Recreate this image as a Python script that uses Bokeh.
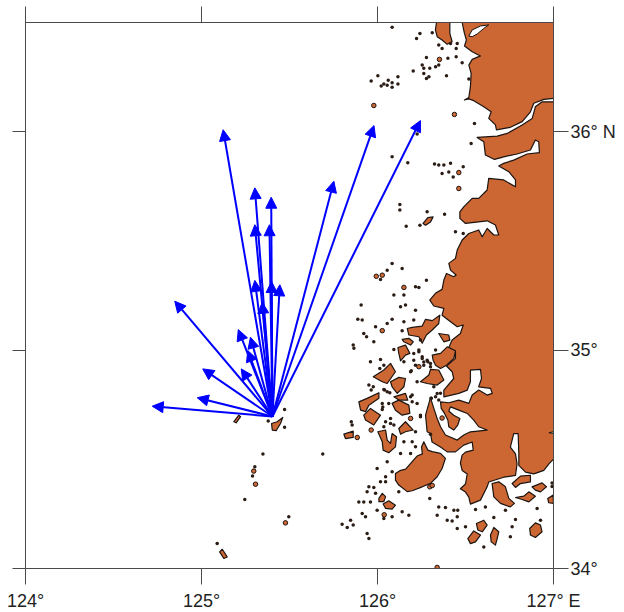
from bokeh.plotting import figure
from bokeh.models import Range1d, LinearAxis, FixedTicker, Arrow, NormalHead, ColumnDataSource
from bokeh.embed import file_html
from bokeh.resources import INLINE

LON_TICKS = [124, 125, 126, 127]
LAT_TICKS = [34, 35, 36]
LON_LABELS = {124: "124°", 125: "125°", 126: "126°", 127: "127° E"}
LAT_LABELS = {34: "34°", 35: "35°", 36: "36° N"}

ORIGIN_LON = 125.403
ORIGIN_LAT = 34.696
TIP_LON = [125.123, 125.303, 125.396, 125.303, 125.386, 125.752, 125.980, 126.244, 125.303, 125.398,
           125.445, 125.345, 124.848, 125.209, 125.278, 125.263, 125.226, 125.007, 124.976, 124.720]
TIP_LAT = [36.009, 35.743, 35.700, 35.574, 35.574, 35.773, 36.028, 36.051, 35.319, 35.314,
           35.299, 35.219, 35.224, 35.094, 35.059, 34.998, 34.914, 34.914, 34.782, 34.743]

COAST_NORTH = [(126.481,36.52),(126.481,36.5),(126.494,36.450),(126.505,36.420),(126.494,36.392),(126.538,36.366),
 (126.585,36.347),(126.538,36.331),(126.519,36.305),(126.532,36.267),(126.528,36.206),(126.519,36.157),
 (126.494,36.145),(126.519,36.150),(126.547,36.142),(126.604,36.114),(126.646,36.091),(126.632,36.061),(126.670,36.031),
 (126.676,36.008),(126.755,36.020),(126.822,36.046),(126.869,36.091),(126.888,36.130),(126.945,36.148),
 (127.0,36.153),(127.02,36.153),(127.02,36.52)]

COAST_SOUTH_A = [(127.02,36.137),(127.0,36.137),(126.935,36.137),(126.897,36.114),(126.879,36.061),(126.822,36.031),
 (126.737,35.992),(126.680,35.980),(126.566,35.974),(126.604,35.954),(126.613,35.893),(126.665,35.873),
 (126.717,35.885),(126.793,35.898),(126.869,35.916),(126.897,35.962),(126.916,35.954),(126.920,35.904),
 (126.850,35.898),(126.774,35.870),(126.717,35.855),(126.689,35.843),(126.746,35.817),(126.784,35.779),
 (126.784,35.748),(126.717,35.779),(126.632,35.786),(126.623,35.733),(126.575,35.695),(126.538,35.695),
 (126.490,35.656),(126.468,35.633),(126.468,35.603),(126.500,35.580),(126.623,35.592),(126.670,35.573),
 (126.689,35.527),(126.661,35.527),(126.623,35.557),(126.595,35.519),(126.575,35.550),(126.519,35.534),
 (126.481,35.504),(126.453,35.458),(126.443,35.420),(126.405,35.397),(126.415,35.366),(126.447,35.344),
 (126.433,35.336),(126.392,35.351),(126.377,35.321),(126.367,35.278)]

COAST_SOUTH_B = [(126.329,35.260),(126.297,35.229),(126.320,35.202),(126.377,35.191),(126.367,35.160),(126.415,35.130),
 (126.453,35.107),(126.487,35.115),(126.471,35.076),(126.424,35.046),(126.405,35.012),(126.443,34.992),
 (126.443,34.962),(126.392,34.927),(126.424,34.901),(126.433,34.870),(126.377,34.817),(126.377,34.786),
 (126.462,34.802),(126.510,34.817),(126.528,34.855),(126.528,34.908),(126.585,34.912),(126.591,34.870),
 (126.575,34.832),(126.642,34.825),(126.652,34.802),(126.623,34.794),(126.575,34.817),(126.538,34.794),
 (126.519,34.756),(126.462,34.771),(126.405,34.759)]

COAST_SOUTH_C = [(126.358,34.763),(126.362,34.733),(126.381,34.710),(126.400,34.679),(126.405,34.649),(126.433,34.634),
 (126.456,34.657),(126.468,34.687),(126.433,34.702),(126.405,34.721),(126.415,34.740),(126.462,34.725),
 (126.510,34.710),(126.547,34.679),(126.575,34.649),(126.623,34.634),(126.528,34.626),(126.490,34.611),
 (126.453,34.588),(126.386,34.611),(126.358,34.649),(126.339,34.687),(126.320,34.733),(126.301,34.782),
 (126.273,34.702),(126.282,34.626),(126.301,34.618),(126.310,34.579),(126.358,34.556),(126.396,34.534),
 (126.443,34.534),(126.490,34.565),(126.538,34.579),(126.544,34.542)]

COAST_SOUTH_D = [(126.500,34.533),(126.481,34.519),(126.471,34.482),(126.481,34.449),(126.510,34.433),(126.500,34.387),
 (126.471,34.365),(126.500,34.350),(126.519,34.327),(126.528,34.295),(126.585,34.313),(126.623,34.374),
 (126.632,34.396),(126.717,34.418),(126.784,34.426),(126.793,34.479),(126.784,34.525),(126.755,34.556),
 (126.774,34.618),(126.799,34.618),(126.803,34.525),(126.803,34.472),(126.841,34.441),(126.888,34.433),
 (126.945,34.449),(126.974,34.479),(127.0,34.501),(127.02,34.501)]

ISLANDS = [
 [(126.339,36.52),(126.411,36.52),(126.411,36.450),(126.424,36.412),(126.396,36.400),(126.367,36.420),(126.339,36.435),(126.329,36.466)],
 [(126.259,35.580),(126.286,35.607),(126.316,35.610),(126.301,35.587),(126.273,35.572)],
 [(126.169,35.099),(126.197,35.104),(126.254,35.110),(126.273,35.141),(126.311,35.135),(126.354,35.160),(126.348,35.122),(126.311,35.092),(126.278,35.069),(126.254,35.031),(126.235,35.061),(126.178,35.069)],
 [(126.140,35.049),(126.178,35.054),(126.203,35.038),(126.188,35.023),(126.150,35.038)],
 [(126.116,35.012),(126.159,35.023),(126.184,34.985),(126.159,34.977),(126.131,34.951),(126.121,34.985)],
 [(126.348,35.076),(126.405,35.069),(126.411,35.046),(126.377,35.038)],
 [(126.311,34.977),(126.358,34.985),(126.396,35.015),(126.443,34.997),(126.434,34.962),(126.392,34.931),(126.358,34.916),(126.330,34.931),(126.316,34.954)],
 [(126.244,34.855),(126.292,34.886),(126.301,34.912),(126.348,34.909),(126.377,34.863),(126.339,34.840),(126.282,34.847)],
 [(125.976,34.878),(126.036,34.909),(126.074,34.939),(126.102,34.901),(126.055,34.847),(126.027,34.855)],
 [(126.074,34.855),(126.121,34.875),(126.159,34.870),(126.150,34.832),(126.112,34.802),(126.083,34.832)],
 [(126.093,34.786),(126.159,34.802),(126.172,34.771),(126.121,34.771)],
 [(125.894,34.763),(125.941,34.779),(126.008,34.805),(126.008,34.779),(125.951,34.748),(125.932,34.718),(125.904,34.725)],
 [(126.083,34.756),(126.121,34.771),(126.178,34.748),(126.184,34.710),(126.140,34.702),(126.102,34.725)],
 [(125.922,34.702),(125.960,34.733),(126.017,34.702),(125.979,34.657),(125.932,34.680)],
 [(126.121,34.641),(126.159,34.672),(126.203,34.634),(126.159,34.626),(126.131,34.615)],
 [(125.809,34.615),(125.862,34.629),(125.862,34.600),(125.818,34.595)],
 [(126.002,34.626),(126.046,34.634),(126.055,34.588),(126.074,34.573),(126.083,34.618),(126.108,34.603),(126.102,34.557),(126.064,34.530),(126.032,34.542),(126.027,34.580)],
 [(126.102,34.435),(126.102,34.405),(126.121,34.382),(126.169,34.352),(126.197,34.356),(126.254,34.374),(126.301,34.390),(126.339,34.420),(126.367,34.458),(126.386,34.504),(126.358,34.527),(126.311,34.535),(126.286,34.542),(126.263,34.580),(126.250,34.556),(126.255,34.525),(126.225,34.515),(126.197,34.489),(126.160,34.455),(126.127,34.448)],
 [(126.651,34.389),(126.689,34.397),(126.727,34.374),(126.746,34.321),(126.778,34.298),(126.755,34.282),(126.699,34.298),(126.661,34.328)],
 [(126.765,34.389),(126.812,34.423),(126.869,34.427),(126.869,34.397),(126.812,34.389),(126.784,34.371)],
 [(126.878,34.374),(126.935,34.392),(126.960,34.374),(126.926,34.351),(126.897,34.359)],
 [(126.784,34.325),(126.831,34.331),(126.860,34.351),(126.897,34.331),(126.860,34.305),(126.822,34.316)],
 [(126.967,34.321),(126.998,34.336),(127.0,34.298),(126.973,34.301)],
 [(126.865,34.183),(126.897,34.209),(126.926,34.199),(126.935,34.168),(126.897,34.142),(126.869,34.153)],
 [(126.562,34.206),(126.604,34.221),(126.623,34.199),(126.595,34.168),(126.570,34.176)],
 [(126.513,34.137),(126.547,34.172),(126.585,34.153),(126.557,34.122),(126.528,34.114)],
 [(126.642,34.153),(126.661,34.188),(126.689,34.168),(126.680,34.137),(126.670,34.107),(126.646,34.122)],
 [(126.008,34.321),(126.027,34.344),(126.046,34.329),(126.036,34.306),(126.008,34.306)],
 [(126.032,34.295),(126.064,34.310),(126.102,34.290),(126.083,34.272),(126.046,34.275)],
 [(125.398,34.664),(125.430,34.672),(125.462,34.692),(125.449,34.664),(125.424,34.631),(125.402,34.634)],
 [(125.184,34.672),(125.212,34.702),(125.222,34.695),(125.197,34.667)],
 [(125.103,34.076),(125.118,34.088),(125.146,34.053),(125.127,34.046)],
]

INLETS = [
 [(126.519,36.438),(126.538,36.466),(126.585,36.484),(126.632,36.489),(126.604,36.473),(126.566,36.447),(126.538,36.435)],
 [(126.974,34.622),(127.0,34.626),(127.0,34.618)],
]

OVAL_LON = [125.979, 126.352, 126.437, 126.462, 126.462, 126.027, 125.993, 126.150, 126.367, 126.027, 126.188, 125.964,
            126.297, 126.235, 126.339, 125.297, 125.307, 125.477, 126.311, 126.038, 125.885]
OVAL_LAT = [36.120, 36.331, 36.079, 35.813, 35.740, 35.343, 35.338, 35.287, 34.689, 35.089, 34.687, 34.634,
            34.374, 34.924, 34.005, 34.446, 34.386, 34.209, 34.380, 34.246, 34.600]

DOTS_NORTH = [(126.083,36.478),(126.241,36.450),(126.311,36.453),(126.222,36.427),(126.348,36.397),(126.367,36.381),
 (126.415,36.404),(126.453,36.404),(126.447,36.381),(126.278,36.340),(126.400,36.336),(126.447,36.343),(126.481,36.316),
 (126.254,36.305),(126.263,36.290),(126.297,36.290),(126.330,36.297),(126.348,36.305),(126.203,36.278),(126.263,36.267),
 (126.292,36.252),(126.278,36.244),(126.392,36.256),(126.519,36.241),(126.002,36.256),(125.964,36.232),(126.116,36.252),
 (126.061,36.236),(126.036,36.218),(126.021,36.209),(126.055,36.213),(126.083,36.224),(126.116,36.218),(126.083,36.203),
 (126.551,36.038),(126.225,35.989),(126.532,35.946),(126.083,35.885),(126.172,35.858),(126.324,35.852),(126.348,35.847),
 (126.377,35.847),(126.415,35.855),(126.487,35.839),(126.367,35.809),(126.405,35.816),(126.430,35.793),(126.127,35.667),
 (126.127,35.641),(126.282,35.633),(126.381,35.622),(126.163,35.567),(126.241,35.572),(126.443,35.542),(126.487,35.534),
 (126.055,35.366),(126.140,35.374),(126.278,35.320),(126.216,35.290),(126.235,35.287),(126.083,35.396),(126.017,35.323)]

DOTS_SOUTH = [(126.093,35.252),(126.150,35.252),(126.131,35.199),(126.159,35.206),(126.216,35.183),(125.907,35.206),
 (125.888,35.141),(125.913,35.138),(125.989,35.107),(126.083,35.141),(126.055,35.122),(125.922,35.076),(125.938,35.061),
 (125.979,35.038),(125.862,35.023),(125.866,35.008),(126.140,35.089),(126.150,35.130),(126.206,35.138),(126.244,35.046),
 (126.093,35.003),(125.960,34.947),(126.017,34.957),(126.036,34.931),(126.013,34.916),(126.150,34.947),(126.188,34.901),
 (126.206,34.985),(126.235,34.993),(126.254,34.962),(126.282,34.954),(126.301,34.939),(126.263,34.931),(126.330,35.000),
 (126.225,34.855),(126.358,34.802),(126.330,34.786),(126.305,34.779),(125.951,34.840),(125.976,34.832),(125.964,34.817),
 (126.036,34.820),(126.055,34.809),(126.197,34.794),(126.225,34.756),(126.027,34.756),(126.027,34.728),(126.064,34.756),
 (126.244,34.702),(126.074,34.687),(126.046,34.672),(126.093,34.657),(125.851,34.672),(125.856,34.657),(126.216,34.626),
 (126.301,34.615),(126.150,34.580),(126.197,34.580),(126.131,34.527),(126.188,34.527),(126.216,34.557),(126.055,34.489),
 (125.998,34.458),(126.046,34.420),(126.083,34.443),(126.017,34.397),(126.046,34.397),(126.121,34.351),(125.951,34.374),
 (125.979,34.371),(125.941,34.351),(125.989,34.344),(125.922,34.305),(125.960,34.305),(126.297,34.321),(126.348,34.282),
 (126.386,34.279),(126.434,34.267),(126.456,34.267),(126.453,34.237),(126.339,34.244),(126.396,34.221),(126.424,34.218),
 (126.453,34.183),(126.500,34.191),(126.557,34.270),(126.613,34.282),(126.661,34.234),(126.727,34.267),(126.784,34.224),
 (126.765,34.191),(126.755,34.145),(126.926,34.221),(126.604,34.099),(126.907,34.275),(125.913,34.252),(125.932,34.237),
 (125.998,34.267),(126.036,34.229),(126.083,34.237),(126.140,34.260),(126.178,34.244),(125.847,34.221),(125.862,34.199),
 (125.799,34.203),(125.828,34.188),(125.941,34.160),(125.951,34.137),(125.894,34.305),(126.992,34.392),(126.992,34.375)]

DOTS_MID = [(126.206,34.954),(126.235,35.000),(126.254,34.970),(126.263,34.945),(126.286,34.947),(126.216,34.931),
 (126.192,34.905),(126.301,34.924),(126.320,34.832),(126.339,34.801),(126.348,34.771),(126.305,34.779),(126.040,34.817),
 (126.070,34.805),(126.030,34.740),(126.188,34.786),(126.197,34.763),(126.244,34.695),(126.074,34.664),(126.036,34.649)]

DOTS_FAR = [(125.472,34.728),(125.472,34.647),(125.379,34.675),(125.349,34.524),(125.689,34.524),(125.303,34.466),
 (125.290,34.424),(125.246,34.316),(125.496,34.237),(125.089,34.114)]

LAND = "#CC6633"
EDGE = "#1c1410"
AXIS = "#4a4a4a"

p = figure(width=616, height=610, frame_width=528, frame_height=546,
           x_range=Range1d(124, 127), y_range=Range1d(34, 36.5),
           x_axis_type=None, y_axis_type=None,
           output_backend="svg", toolbar_location=None,
           min_border_left=25, min_border_top=22, min_border_right=0, min_border_bottom=0,
           background_fill_color="white", border_fill_color="white")
p.grid.visible = False
p.outline_line_color = AXIS
p.outline_line_width = 1


def axis(ticks, labels, out, show):
    a = LinearAxis(ticker=FixedTicker(ticks=ticks), major_label_overrides=labels,
                   major_tick_out=out, major_tick_in=0, minor_tick_out=0, minor_tick_in=0,
                   axis_line_color=AXIS, major_tick_line_color=AXIS, major_tick_line_width=1,
                   major_label_text_font="Liberation Sans", major_label_text_color="#222222",
                   major_label_text_font_size="18px" if show else "0px",
                   major_label_standoff=6 if show else 0)
    return a


blank_lon = {t: "" for t in LON_TICKS}
blank_lat = {t: "" for t in LAT_TICKS}
p.add_layout(axis(LON_TICKS, LON_LABELS, 16, True), "below")
p.add_layout(axis(LON_TICKS, blank_lon, 16, False), "above")
p.add_layout(axis(LAT_TICKS, blank_lat, 13, False), "left")
lat_axis = axis(LAT_TICKS, LAT_LABELS, 15, True)
lat_axis.major_label_standoff = 2
p.add_layout(lat_axis, "right")


def unzip(poly):
    return [c[0] for c in poly], [c[1] for c in poly]


south = COAST_SOUTH_A + COAST_SOUTH_B + COAST_SOUTH_C + COAST_SOUTH_D
land = [COAST_NORTH, south] + ISLANDS
p.patches([unzip(s)[0] for s in land], [unzip(s)[1] for s in land],
          fill_color=LAND, line_color=EDGE, line_width=1.2, line_join="round")
p.patches([unzip(s)[0] for s in INLETS], [unzip(s)[1] for s in INLETS],
          fill_color="white", line_color=EDGE, line_width=1)

dots = DOTS_NORTH + DOTS_SOUTH + DOTS_MID + DOTS_FAR
p.scatter(unzip(dots)[0], unzip(dots)[1], size=3.5, marker="circle",
          fill_color="#2a1c14", line_color=None)
p.scatter(OVAL_LON, OVAL_LAT, size=4.5, marker="circle",
          fill_color=LAND, line_color=EDGE, line_width=1)

src = ColumnDataSource(dict(x0=[ORIGIN_LON] * len(TIP_LON), y0=[ORIGIN_LAT] * len(TIP_LAT),
                            x1=TIP_LON, y1=TIP_LAT))
head = NormalHead(size=11, fill_color="#0000FF", line_color="#0000FF", line_width=1)
p.add_layout(Arrow(end=head, source=src, x_start="x0", y_start="y0", x_end="x1", y_end="y1",
                   line_color="#0000FF", line_width=2))

open("out.html", "w").write(file_html(p, INLINE))
